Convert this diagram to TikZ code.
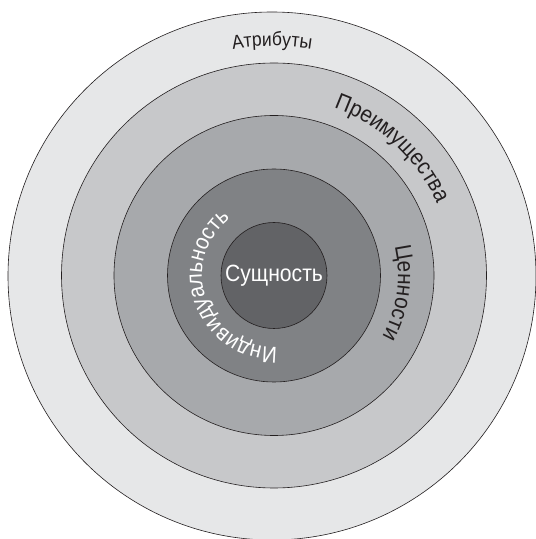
\documentclass[tikz,border=0pt]{standalone}
\usepackage{fontspec}
\setmainfont{Liberation Sans}
\newfontfamily\ringfont[FakeStretch=0.9]{Liberation Sans}
\usetikzlibrary{decorations.text}
\definecolor{g1}{HTML}{E6E7E8}
\definecolor{g2}{HTML}{C7C8CA}
\definecolor{g3}{HTML}{A7A9AC}
\definecolor{g4}{HTML}{808285}
\definecolor{g5}{HTML}{626366}
\definecolor{ink}{HTML}{231F20}
\begin{document}
\begin{tikzpicture}[x=1pt,y=1pt,
  ring/.style={draw=ink, line width=0.6pt},
  arctext/.style={decorate, decoration={text along path, text align=center, text color=#1}}]
\clip (0,0) rectangle (536,539);
\fill[white] (0,0) rectangle (536,539);
\coordinate (O) at (272,263);
\coordinate (C) at (274,263.5);
\filldraw[ring, fill=g1] (O) circle[radius=264pt];
\filldraw[ring, fill=g2] (C) circle[radius=212.5pt];
\filldraw[ring, fill=g3] (C) circle[radius=160pt];
\filldraw[ring, fill=g4] (C) circle[radius=106.5pt];
\filldraw[ring, fill=g5] (C) circle[radius=53pt];
\node[font=\ringfont\fontsize{23.5}{26}\selectfont, text=white] (core) at (C) {Сущность};
\path[arctext=ink, decoration={text={|\ringfont\fontsize{19.5}{24}\selectfont|Атрибуты}}]
  (O) ++(120:230pt) arc[start angle=120, end angle=60, radius=230pt];
\path[arctext=ink, decoration={text={|\ringfont\fontsize{23}{26}\selectfont|Преимущества}}]
  (C) ++(97:178pt) arc[start angle=97, end angle=-3, radius=178pt];
\path[arctext=ink, decoration={text={|\ringfont\fontsize{23}{26}\selectfont|Ценности}}]
  (C) ++(40:124pt) arc[start angle=40, end angle=-56, radius=124pt];
\path[arctext=white, decoration={text={|\ringfont\fontsize{23}{26}\selectfont|Индивидуальность}}]
  (C) ++(300:72pt) arc[start angle=300, end angle=100, radius=72pt];
\end{tikzpicture}
\end{document}
